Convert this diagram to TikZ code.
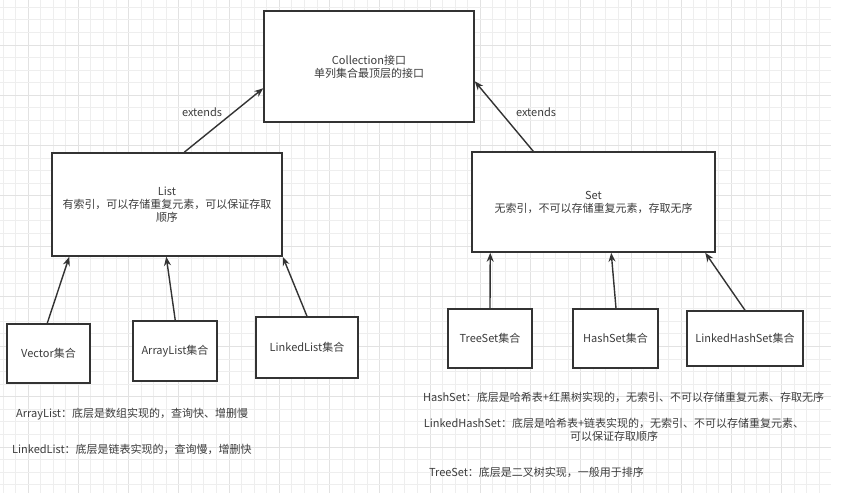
\documentclass[tikz,border=0pt]{standalone}
\usepackage{fontspec}
\setmainfont{Noto Sans CJK SC}
\usetikzlibrary{calc,arrows.meta}
\definecolor{ink}{HTML}{333333}
\definecolor{txt}{HTML}{3C3C3C}
\definecolor{gridminor}{HTML}{EEEEEE}
\definecolor{gridmajor}{HTML}{E2E2E2}
\begin{document}
\begin{tikzpicture}[x=1pt,y=-1pt,
  box/.style={draw=ink,line width=1.5pt,fill=white,align=center,text=txt,inner sep=0pt,font=\fontsize{11}{13}\selectfont},
  arr/.style={draw=ink,line width=1.4pt,-{Stealth[length=9pt,width=7pt]}},
  note/.style={text=txt,inner sep=0pt,font=\fontsize{11}{13}\selectfont},
  lbl/.style={text=txt,inner sep=0pt,font=\fontsize{11}{13}\selectfont}]
\useasboundingbox (0,0) rectangle (847,493);
\fill[white] (0,0) rectangle (847,493);
% grid
\foreach \k in {0,...,65}{
  \pgfmathsetmacro{\gx}{2.9+12.56*\k}
  \pgfmathtruncatemacro{\m}{mod(\k,4)}
  \ifnum\m=2 \draw[gridmajor,line width=0.8pt] (\gx,0) -- (\gx,493);
  \else \draw[gridminor,line width=0.8pt] (\gx,0) -- (\gx,493); \fi
}
\foreach \k in {0,...,38}{
  \pgfmathsetmacro{\gy}{7.3+12.56*\k}
  \pgfmathtruncatemacro{\m}{mod(\k,4)}
  \ifnum\m=3 \draw[gridmajor,line width=0.8pt] (0,\gy) -- (831,\gy);
  \else \draw[gridminor,line width=0.8pt] (0,\gy) -- (831,\gy); \fi
}
% boxes
\node[box,minimum width=210pt,minimum height=111pt] (coll) at (369,66.5) {Collection接口\\单列集合最顶层的接口};
\node[box,minimum width=230pt,minimum height=103pt] (list) at (167,204.5) {List\\有索引，可以存储重复元素，可以保证存取\\顺序};
\node[box,minimum width=243pt,minimum height=100pt] (set) at (593.5,202) {Set\\无索引，不可以存储重复元素，存取无序};
\node[box,minimum width=83pt,minimum height=59pt] (vector) at (48.5,353.5) {Vector集合};
\node[box,minimum width=84pt,minimum height=60pt] (alist) at (175,351) {ArrayList集合};
\node[box,minimum width=102pt,minimum height=61pt] (llist) at (307,347.5) {LinkedList集合};
\node[box,minimum width=84pt,minimum height=59pt] (tset) at (490,338.5) {TreeSet集合};
\node[box,minimum width=85pt,minimum height=59pt] (hset) at (615.5,338.5) {HashSet集合};
\node[box,minimum width=116pt,minimum height=55pt] (lhset) at (745,338.5) {LinkedHashSet集合};
% arrows
\draw[arr] ($(list.north west)+(133,0)$) -- ($(coll.north west)+(0,78)$);
\draw[arr] ($(set.north west)+(62,0)$) -- ($(coll.north east)+(0,71)$);
\draw[arr] ($(vector.north west)+(41,0)$) -- ($(list.south west)+(18,0)$);
\draw[arr] ($(alist.north west)+(43,0)$) -- ($(list.south west)+(115,0)$);
\draw[arr] (llist.north) -- ($(list.south east)+(0,0)$);
\draw[arr] (tset.north) -- ($(set.south west)+(19,0)$);
\draw[arr] ($(hset.north)+(0.5,0)$) -- ($(set.south west)+(140,0)$);
\draw[arr] (lhset.north) -- ($(set.south west)+(234,0)$);
% labels
\node[lbl] (ext1) at (202,112) {extends};
\node[lbl] (ext2) at (536,112) {extends};
% notes
\node[note,anchor=west] (n1) at (16,414) {ArrayList：底层是数组实现的，查询快、增删慢};
\node[note,anchor=west] (n2) at (12,449) {LinkedList：底层是链表实现的，查询慢，增删快};
\node[note,anchor=west] (n3) at (423,397) {HashSet：底层是哈希表+红黑树实现的，无索引、不可以存储重复元素、存取无序};
\node[note,align=center] (n4) at (614,429.5) {LinkedHashSet：底层是哈希表+链表实现的，无索引、不可以存储重复元素、\\可以保证存取顺序};
\node[note,anchor=west] (n5) at (429,472) {TreeSet：底层是二叉树实现，一般用于排序};
\end{tikzpicture}
\end{document}
